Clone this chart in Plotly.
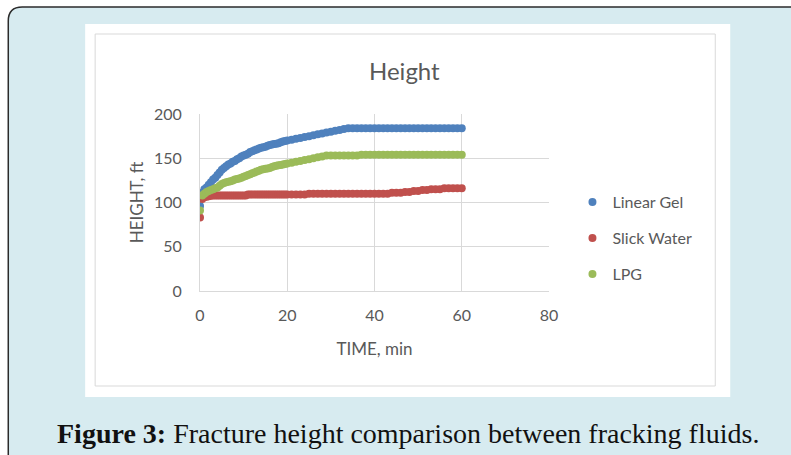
import plotly.graph_objects as go

# ---------------- data ----------------
time_min = [0, 0.5, 1, 1.5, 2, 2.5, 3, 3.5, 4, 4.5, 5, 5.5, 6, 6.5, 7, 7.5, 8, 8.5, 9, 9.5,
            10, 10.5, 11, 11.5, 12, 12.5, 13, 13.5, 14, 14.5, 15, 15.5, 16, 16.5, 17, 17.5,
            18, 18.5, 19, 19.5, 20,
            21, 22, 23, 24, 25, 26, 27, 28, 29, 30, 31, 32, 33, 34, 35, 36, 37, 38, 39, 40,
            41, 42, 43, 44, 45, 46, 47, 48, 49, 50, 51, 52, 53, 54, 55, 56, 57, 58, 59, 60]

linear_gel = [96, 111, 115, 117, 120, 123, 126, 128, 131, 134, 137, 139, 141, 143, 144, 146,
              147, 149, 150, 152, 153, 154, 155, 157, 158, 159, 160, 161, 162, 162.5, 163, 164,
              165, 165.5, 166, 166.5, 167, 168, 169, 169.5, 170,
              171, 172, 173, 174, 175, 176, 177, 178, 179, 180, 181, 182, 183, 184, 184, 184,
              184, 184, 184, 184, 184, 184, 184, 184, 184, 184, 184, 184, 184, 184, 184, 184,
              184, 184, 184, 184, 184, 184, 184, 184]

slick_water = [83, 104, 106, 106.5, 107, 107.5, 108, 108, 108, 108, 108, 108, 108, 108, 108, 108,
               108, 108, 108, 108, 108, 108, 109, 109, 109, 109, 109, 109, 109, 109, 109, 109,
               109, 109, 109, 109, 109, 109, 109, 109, 109,
               109, 109, 109, 109, 110, 110, 110, 110, 110, 110, 110, 110, 110, 110, 110, 110,
               110, 110, 110, 110, 110, 110, 110, 111, 111, 111, 112, 112, 113, 113, 114, 114,
               115, 115, 115, 116, 116, 116, 116, 116]

lpg = [91, 108, 110, 112, 113, 114, 115, 116, 117, 119, 121, 122, 123, 123.5, 124, 125,
       126, 126.5, 127, 128, 129, 130, 131, 132, 133, 134, 135, 136, 137, 137.5, 138, 138.5,
       139, 140, 141, 141.5, 142, 142.5, 143, 143.5, 144,
       145, 146, 147, 148, 149, 150, 151, 152, 153, 153, 153, 153, 153, 153, 153, 153,
       154, 154, 154, 154, 154, 154, 154, 154, 154, 154, 154, 154, 154, 154, 154, 154,
       154, 154, 154, 154, 154, 154, 154, 154]

series_names = ["Linear Gel", "Slick Water", "LPG"]
series_colors = ["#4f81bd", "#c0504d", "#9bbb59"]
x_ticks = [0, 20, 40, 60, 80]
y_ticks = [0, 50, 100, 150, 200]

# ---------------- layout geometry (pixels) ----------------
W, H = 791, 455
L, R, T, B = 200, 549.5, 114, 291


def fx(px):
    return (px - L) / (R - L)


def fy(py):
    return (B - py) / (B - T)


TEXT = "#595959"
FONT = "Lato"

fig = go.Figure()
legend_ids = ["legend", "legend2", "legend3"]
for name, vals, col, lg in zip(series_names, [linear_gel, slick_water, lpg], series_colors, legend_ids):
    fig.add_trace(go.Scatter(
        x=time_min, y=vals, mode="markers", name=name,
        marker=dict(color=col, size=8, line=dict(width=0)),
        legend=lg,
    ))

# background panel with rounded corners
x0, y0, x1, y1, r = 8, 7, 805, 470, 14
panel_path = (
    f"M {fx(x0)},{fy(y0 + r)} "
    f"Q {fx(x0)},{fy(y0)} {fx(x0 + r)},{fy(y0)} "
    f"L {fx(x1)},{fy(y0)} L {fx(x1)},{fy(y1)} L {fx(x0)},{fy(y1)} Z"
)
shapes = [
    dict(type="path", xref="paper", yref="paper", path=panel_path,
         fillcolor="#d7ebf0", line=dict(color="#2b2b2b", width=1.5), layer="below"),
    dict(type="rect", xref="paper", yref="paper", x0=fx(85), x1=fx(731), y0=fy(24), y1=fy(397),
         fillcolor="white", line=dict(width=0), layer="below"),
    dict(type="rect", xref="paper", yref="paper", x0=fx(95), x1=fx(716), y0=fy(34), y1=fy(386),
         fillcolor="white", line=dict(color="#d9d9d9", width=1), layer="below"),
]

annotations = [
    dict(text="Height", xref="paper", yref="paper", x=fx(405), y=fy(71),
         xanchor="center", yanchor="middle", showarrow=False,
         font=dict(family=FONT, size=24, color=TEXT)),
    dict(text="<b>Figure 3:</b> Fracture height comparison between fracking fluids.",
         xref="paper", yref="paper", x=fx(408), y=fy(433),
         xanchor="center", yanchor="middle", showarrow=False,
         font=dict(family="Liberation Serif", size=28, color="#111111")),
]

leg_common = dict(font=dict(family=FONT, size=16, color=TEXT), bgcolor="rgba(0,0,0,0)",
                  xanchor="left", yanchor="middle", itemwidth=30)

fig.update_layout(
    width=W, height=H,
    margin=dict(l=L, r=W - R, t=T, b=H - B, pad=0),
    paper_bgcolor="white", plot_bgcolor="white",
    font=dict(family=FONT, color=TEXT),
    shapes=shapes, annotations=annotations,
    showlegend=True,
    legend=dict(x=fx(573), y=fy(202), **leg_common),
    legend2=dict(x=fx(573), y=fy(238), **leg_common),
    legend3=dict(x=fx(573), y=fy(274), **leg_common),
    xaxis=dict(range=[0, 80], tickvals=x_ticks, showgrid=True, gridcolor="#d9d9d9",
               showline=True, linecolor="#d9d9d9", zeroline=False, ticks="",
               tickfont=dict(family=FONT, size=16, color=TEXT), ticklabelstandoff=10,
               title=dict(text="TIME, min", font=dict(family=FONT, size=17, color=TEXT), standoff=19),
               mirror=False, fixedrange=True),
    yaxis=dict(range=[0, 200], tickvals=y_ticks, showgrid=True, gridcolor="#d9d9d9",
               showline=True, linecolor="#d9d9d9", zeroline=False, ticks="",
               tickfont=dict(family=FONT, size=16, color=TEXT), ticklabelstandoff=14,
               title=dict(text="HEIGHT, ft", font=dict(family=FONT, size=17, color=TEXT), standoff=6),
               fixedrange=True),
)

fig.write_html("out.html")
